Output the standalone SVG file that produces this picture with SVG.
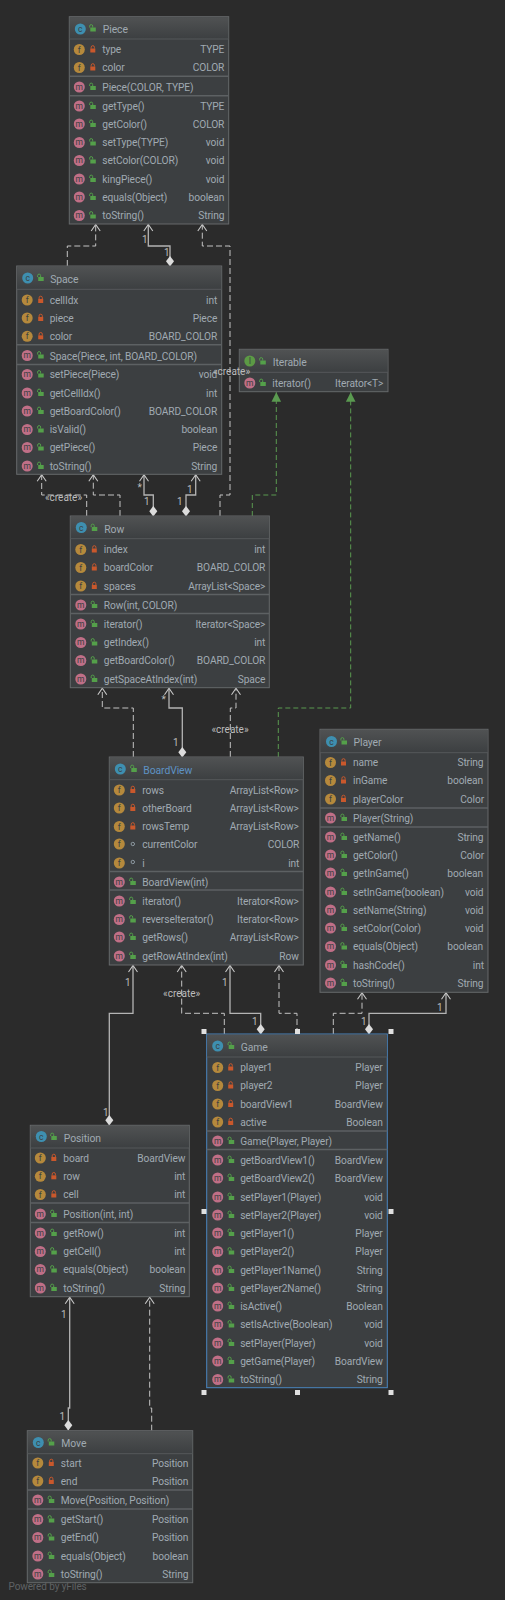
<svg xmlns="http://www.w3.org/2000/svg" width="505" height="1600" viewBox="0 0 505 1600">
<style>
text{font-family:Roboto,"Liberation Sans",sans-serif;font-size:10.2px;letter-spacing:-0.1px;fill:#a0aab2}
.r{text-anchor:end}
.h{font-size:10.4px}
.l{font-size:10px;letter-spacing:0;fill:#bcbcbc}
.c{text-anchor:middle}
.ic{font-size:8.5px;letter-spacing:0;text-anchor:middle;fill:#3a3f42}
.box{fill:#3c3f41;stroke:#66696b;stroke-width:1}
.ttl{fill:url(#tg)}
.sep{stroke:#5d6163;stroke-width:1.5}
.tsep{stroke:#55585a;stroke-width:1}
.k{fill:none;stroke:#b4b4b4;stroke-width:1.3;marker-end:url(#oa);marker-start:url(#dm)}
.d{fill:none;stroke:#c4c4c4;stroke-width:1;stroke-dasharray:6 3;marker-end:url(#oa)}
.g{fill:none;stroke:#5a9a50;stroke-width:1;stroke-dasharray:5 3;marker-end:url(#ta)}
.hd{fill:#e0e0e0}
</style>
<defs>
<linearGradient id="tg" x1="0" y1="0" x2="0" y2="1"><stop offset="0" stop-color="#505253"/><stop offset="1" stop-color="#3c3f41"/></linearGradient>
<marker id="oa" markerUnits="userSpaceOnUse" markerWidth="12" markerHeight="12" refX="10" refY="6" orient="auto"><path d="M3.5,1.5L10,6L3.5,10.5" fill="none" stroke="#c8c8c8" stroke-width="1.1"/></marker>
<marker id="dm" markerUnits="userSpaceOnUse" markerWidth="12" markerHeight="12" refX="1" refY="6" orient="auto"><polygon points="0.5,6 5.8,2 11,6 5.8,10" fill="#dcdcdc"/></marker>
<marker id="ta" markerUnits="userSpaceOnUse" markerWidth="12" markerHeight="12" refX="10" refY="6" orient="auto"><polygon points="10,6 0.5,1.2 0.5,10.8" fill="#5a9a50"/></marker>
<g id="f"><circle r="5.5" fill="#b5893c"/><text class="ic" y="3">f</text></g>
<g id="m"><circle r="5.5" fill="#c06f87"/><text class="ic" y="2.5">m</text></g>
<g id="cc"><circle r="5.5" fill="#3e8fb0"/><text class="ic" y="3">c</text></g>
<g id="ii"><circle r="5.5" fill="#5c9a45"/><text class="ic" y="3">I</text></g>
<g id="p"><rect x="-2.5" y="-1" width="5" height="4" fill="#c9582c"/><path d="M-1.6,-1V-2.2A1.6,1.6 0 0 1 1.6,-2.2V-1" fill="none" stroke="#c9582c"/></g>
<g id="u"><rect x="-2" y="-1" width="5.5" height="4" fill="#54a04a"/><path d="M-2.6,-1V-2.4A1.5,1.5 0 0 1 0.4,-2.4V-1" fill="none" stroke="#54a04a"/></g>
<circle id="o" r="1.7" fill="none" stroke="#8e9aa2"/>
</defs>
<rect width="505" height="1600" fill="#2b2b2b"/>

<g id="connectors">
<path class="d" d="M67.3,266V246H95.7V224.5"/>
<path class="k" d="M170,266V246H148.3V224.5"/>
<path class="d" d="M220,516V495H230V246H202.3V224.5"/>
<path class="d" d="M86.7,516V495H41.7V474.8"/>
<path class="d" d="M120,516V495H93.3V474.8"/>
<path class="k" d="M153.3,516V495H144V474.8"/>
<path class="k" d="M186,516V495H195.7V474.8"/>
<path class="g" d="M252.3,516V495H276.3V392.2"/>
<path class="g" d="M278.3,757V708H350.7V392.2"/>
<path class="d" d="M133.3,757V708H102.3V688.2"/>
<path class="k" d="M182.3,757V708H169V688.2"/>
<path class="d" d="M230.3,757V708H236V688.2"/>
<path class="k" d="M109.3,1125V1013.3H133V965.5"/>
<path class="d" d="M224.3,1034V1013.3H181.7V965.5"/>
<path class="k" d="M260.7,1034V1013.3H230V965.5"/>
<path class="d" d="M297,1034V1013.3H279V965.5"/>
<path class="d" d="M333.3,1034V1013.3H362V992.8"/>
<path class="k" d="M369,1034V1013.3H446V992.8"/>
<path class="k" d="M68.3,1430V1408H69.7V1297.2"/>
<path class="d" d="M151.7,1430.7V1408H149.7V1297.2"/>
</g>

<g id="Piece" transform="translate(69.3,0)">
<rect class="box" y="16.7" width="159.4" height="207.3"/><rect class="ttl" x="0.5" y="17.2" width="158.4" height="21.8"/><line class="tsep" x2="159.4" y1="39" y2="39"/>
<use href="#cc" x="11" y="29"/><use href="#u" x="23" y="28.5"/><text class="h" x="33.5" y="33">Piece</text>
<use href="#f" x="10" y="49.5"/><use href="#p" x="23.5" y="49.5"/><text x="33" y="53">type</text><text class="r" x="155" y="53">TYPE</text>
<use href="#f" x="10" y="67.5"/><use href="#p" x="23.5" y="67.5"/><text x="33" y="71">color</text><text class="r" x="155" y="71">COLOR</text>
<line class="sep" x2="159.4" y1="76.3" y2="76.3"/>
<use href="#m" x="10" y="87"/><use href="#u" x="23" y="87"/><text x="33" y="90.5">Piece(COLOR, TYPE)</text>
<line class="sep" x2="159.4" y1="95.7" y2="95.7"/>
<use href="#m" x="10" y="106"/><use href="#u" x="23" y="106"/><text x="33" y="109.5">getType()</text><text class="r" x="155" y="109.5">TYPE</text>
<use href="#m" x="10" y="124"/><use href="#u" x="23" y="124"/><text x="33" y="127.5">getColor()</text><text class="r" x="155" y="127.5">COLOR</text>
<use href="#m" x="10" y="142.5"/><use href="#u" x="23" y="142.5"/><text x="33" y="146">setType(TYPE)</text><text class="r" x="155" y="146">void</text>
<use href="#m" x="10" y="160.5"/><use href="#u" x="23" y="160.5"/><text x="33" y="164">setColor(COLOR)</text><text class="r" x="155" y="164">void</text>
<use href="#m" x="10" y="179"/><use href="#u" x="23" y="179"/><text x="33" y="182.5">kingPiece()</text><text class="r" x="155" y="182.5">void</text>
<use href="#m" x="10" y="197"/><use href="#u" x="23" y="197"/><text x="33" y="200.5">equals(Object)</text><text class="r" x="155" y="200.5">boolean</text>
<use href="#m" x="10" y="215.5"/><use href="#u" x="23" y="215.5"/><text x="33" y="219">toString()</text><text class="r" x="155" y="219">String</text>
</g>

<g id="Space" transform="translate(16.7,0)">
<rect class="box" y="266" width="205" height="208.3"/><rect class="ttl" x="0.5" y="266.5" width="204" height="22.8"/><line class="tsep" x2="205" y1="289.3" y2="289.3"/>
<use href="#cc" x="11" y="278"/><use href="#u" x="23.5" y="278"/><text class="h" x="33.5" y="283">Space</text>
<use href="#f" x="10.5" y="300"/><use href="#p" x="24" y="300"/><text x="33" y="303.5">cellIdx</text><text class="r" x="200.5" y="303.5">int</text>
<use href="#f" x="10.5" y="318"/><use href="#p" x="24" y="318"/><text x="33" y="321.5">piece</text><text class="r" x="200.5" y="321.5">Piece</text>
<use href="#f" x="10.5" y="336.3"/><use href="#p" x="24" y="336.3"/><text x="33" y="340">color</text><text class="r" x="200.5" y="340">BOARD_COLOR</text>
<line class="sep" x2="205" y1="344.7" y2="344.7"/>
<use href="#m" x="10.5" y="355.5"/><use href="#u" x="23.5" y="355.5"/><text x="33" y="359.5">Space(Piece, int, BOARD_COLOR)</text>
<line class="sep" x2="205" y1="364.5" y2="364.5"/>
<use href="#m" x="10.5" y="374.5"/><use href="#u" x="23.5" y="374.5"/><text x="33" y="378">setPiece(Piece)</text><text class="r" x="200.5" y="378">void</text>
<use href="#m" x="10.5" y="393"/><use href="#u" x="23.5" y="393"/><text x="33" y="396.5">getCellIdx()</text><text class="r" x="200.5" y="396.5">int</text>
<use href="#m" x="10.5" y="411"/><use href="#u" x="23.5" y="411"/><text x="33" y="414.5">getBoardColor()</text><text class="r" x="200.5" y="414.5">BOARD_COLOR</text>
<use href="#m" x="10.5" y="429.5"/><use href="#u" x="23.5" y="429.5"/><text x="33" y="433">isValid()</text><text class="r" x="200.5" y="433">boolean</text>
<use href="#m" x="10.5" y="447.5"/><use href="#u" x="23.5" y="447.5"/><text x="33" y="451">getPiece()</text><text class="r" x="200.5" y="451">Piece</text>
<use href="#m" x="10.5" y="466"/><use href="#u" x="23.5" y="466"/><text x="33" y="469.5">toString()</text><text class="r" x="200.5" y="469.5">String</text>
</g>

<g id="Iterable" transform="translate(239.3,0)">
<rect class="box" y="349.3" width="148.7" height="42.4"/><rect class="ttl" x="0.5" y="349.8" width="147.7" height="22.5"/><line class="tsep" x2="148.7" y1="372.3" y2="372.3"/>
<use href="#ii" x="10.5" y="361"/><use href="#u" x="23" y="361.5"/><text class="h" x="33.5" y="366">Iterable</text>
<use href="#m" x="10.5" y="383"/><use href="#u" x="23" y="383"/><text x="33" y="387">iterator()</text><text class="r" x="144" y="387">Iterator&lt;T&gt;</text>
</g>

<g id="Row" transform="translate(70.3,0)">
<rect class="box" y="516" width="199" height="171.7"/><rect class="ttl" x="0.5" y="516.5" width="198" height="22.2"/><line class="tsep" x2="199" y1="538.7" y2="538.7"/>
<use href="#cc" x="11" y="527.5"/><use href="#u" x="23.5" y="528"/><text class="h" x="34" y="533">Row</text>
<use href="#f" x="10.5" y="549.5"/><use href="#p" x="24" y="549.5"/><text x="33.5" y="553">index</text><text class="r" x="195" y="553">int</text>
<use href="#f" x="10.5" y="567.5"/><use href="#p" x="24" y="567.5"/><text x="33.5" y="571">boardColor</text><text class="r" x="195" y="571">BOARD_COLOR</text>
<use href="#f" x="10.5" y="586"/><use href="#p" x="24" y="586"/><text x="33.5" y="589.5">spaces</text><text class="r" x="195" y="589.5">ArrayList&lt;Space&gt;</text>
<line class="sep" x2="199" y1="594.5" y2="594.5"/>
<use href="#m" x="10.5" y="605"/><use href="#u" x="23.5" y="605"/><text x="33.5" y="609">Row(int, COLOR)</text>
<line class="sep" x2="199" y1="613.5" y2="613.5"/>
<use href="#m" x="10.5" y="624"/><use href="#u" x="23.5" y="624"/><text x="33.5" y="627.5">iterator()</text><text class="r" x="195" y="627.5">Iterator&lt;Space&gt;</text>
<use href="#m" x="10.5" y="642.5"/><use href="#u" x="23.5" y="642.5"/><text x="33.5" y="646">getIndex()</text><text class="r" x="195" y="646">int</text>
<use href="#m" x="10.5" y="660.5"/><use href="#u" x="23.5" y="660.5"/><text x="33.5" y="664">getBoardColor()</text><text class="r" x="195" y="664">BOARD_COLOR</text>
<use href="#m" x="10.5" y="679"/><use href="#u" x="23.5" y="679"/><text x="33.5" y="682.5">getSpaceAtIndex(int)</text><text class="r" x="195" y="682.5">Space</text>
</g>

<g id="BoardView" transform="translate(109.3,0)">
<rect class="box" y="757" width="194" height="208"/><rect class="ttl" x="0.5" y="757.5" width="193" height="22.2"/><line class="tsep" x2="194" y1="779.7" y2="779.7"/>
<use href="#cc" x="11" y="769"/><use href="#u" x="24" y="769"/><text class="h" x="34" y="773.5" style="fill:#5e92c4">BoardView</text>
<use href="#f" x="10" y="790"/><use href="#p" x="23.5" y="790"/><text x="33" y="793.5">rows</text><text class="r" x="189.5" y="793.5">ArrayList&lt;Row&gt;</text>
<use href="#f" x="10" y="808"/><use href="#p" x="23.5" y="808"/><text x="33" y="811.5">otherBoard</text><text class="r" x="189.5" y="811.5">ArrayList&lt;Row&gt;</text>
<use href="#f" x="10" y="826.5"/><use href="#p" x="23.5" y="826.5"/><text x="33" y="830">rowsTemp</text><text class="r" x="189.5" y="830">ArrayList&lt;Row&gt;</text>
<use href="#f" x="10" y="844"/><use href="#o" x="23.5" y="844"/><text x="33" y="848">currentColor</text><text class="r" x="190" y="848">COLOR</text>
<use href="#f" x="10" y="863"/><use href="#o" x="23.5" y="862"/><text x="33" y="866.5">i</text><text class="r" x="190" y="866.5">int</text>
<line class="sep" x2="194" y1="871.5" y2="871.5"/>
<use href="#m" x="10" y="882"/><use href="#u" x="23" y="882"/><text x="33" y="885.5">BoardView(int)</text>
<line class="sep" x2="194" y1="890" y2="890"/>
<use href="#m" x="10" y="901"/><use href="#u" x="23" y="901"/><text x="33" y="904.5">iterator()</text><text class="r" x="189.5" y="904.5">Iterator&lt;Row&gt;</text>
<use href="#m" x="10" y="919.5"/><use href="#u" x="23" y="919.5"/><text x="33" y="923">reverseIterator()</text><text class="r" x="189.5" y="923">Iterator&lt;Row&gt;</text>
<use href="#m" x="10" y="937"/><use href="#u" x="23" y="937"/><text x="33" y="941">getRows()</text><text class="r" x="189.5" y="941">ArrayList&lt;Row&gt;</text>
<use href="#m" x="10" y="956"/><use href="#u" x="23" y="956"/><text x="33" y="959.5">getRowAtIndex(int)</text><text class="r" x="189.5" y="959.5">Row</text>
</g>

<g id="Player" transform="translate(320,0)">
<rect class="box" y="729.3" width="168" height="263"/><rect class="ttl" x="0.5" y="729.8" width="167" height="22.9"/><line class="tsep" x2="168" y1="752.7" y2="752.7"/>
<use href="#cc" x="11.5" y="741.5"/><use href="#u" x="23.5" y="741.5"/><text class="h" x="33.5" y="746">Player</text>
<use href="#f" x="10.5" y="762.5"/><use href="#p" x="23.5" y="762.5"/><text x="33" y="766">name</text><text class="r" x="163.5" y="766">String</text>
<use href="#f" x="10.5" y="780.5"/><use href="#p" x="23.5" y="780.5"/><text x="33" y="784">inGame</text><text class="r" x="163" y="784">boolean</text>
<use href="#f" x="10.5" y="799"/><use href="#p" x="23.5" y="799"/><text x="33" y="802.5">playerColor</text><text class="r" x="164" y="802.5">Color</text>
<line class="sep" x2="168" y1="808" y2="808"/>
<use href="#m" x="10.5" y="818"/><use href="#u" x="23.5" y="818"/><text x="33" y="821.5">Player(String)</text>
<line class="sep" x2="168" y1="827" y2="827"/>
<use href="#m" x="10.5" y="837"/><use href="#u" x="23.5" y="837"/><text x="33" y="840.5">getName()</text><text class="r" x="163.5" y="840.5">String</text>
<use href="#m" x="10.5" y="855"/><use href="#u" x="23.5" y="855"/><text x="33" y="858.5">getColor()</text><text class="r" x="164" y="858.5">Color</text>
<use href="#m" x="10.5" y="873"/><use href="#u" x="23.5" y="873"/><text x="33" y="877">getInGame()</text><text class="r" x="163" y="877">boolean</text>
<use href="#m" x="10.5" y="892"/><use href="#u" x="23.5" y="892"/><text x="33" y="895.5">setInGame(boolean)</text><text class="r" x="163.5" y="895.5">void</text>
<use href="#m" x="10.5" y="910"/><use href="#u" x="23.5" y="910"/><text x="33" y="913.5">setName(String)</text><text class="r" x="163.5" y="913.5">void</text>
<use href="#m" x="10.5" y="928"/><use href="#u" x="23.5" y="928"/><text x="33" y="932">setColor(Color)</text><text class="r" x="163.5" y="932">void</text>
<use href="#m" x="10.5" y="946.5"/><use href="#u" x="23.5" y="946.5"/><text x="33" y="950">equals(Object)</text><text class="r" x="163" y="950">boolean</text>
<use href="#m" x="10.5" y="965"/><use href="#u" x="23.5" y="965"/><text x="33" y="968.5">hashCode()</text><text class="r" x="164" y="968.5">int</text>
<use href="#m" x="10.5" y="983"/><use href="#u" x="23.5" y="983"/><text x="33" y="986.5">toString()</text><text class="r" x="163.5" y="986.5">String</text>
</g>

<g id="Game" transform="translate(206.7,0)">
<rect class="box" y="1034" width="180.6" height="353.7" style="stroke:#4a86c0"/><rect class="ttl" x="0.6" y="1034.6" width="179.4" height="22.4"/><line class="tsep" x2="180.6" y1="1057" y2="1057"/>
<use href="#cc" x="11" y="1046"/><use href="#u" x="24" y="1046"/><text class="h" x="34" y="1050.5">Game</text>
<use href="#f" x="11" y="1067.5"/><use href="#p" x="24" y="1067.5"/><text x="33.5" y="1071">player1</text><text class="r" x="176" y="1071">Player</text>
<use href="#f" x="11" y="1085.5"/><use href="#p" x="24" y="1085.5"/><text x="33.5" y="1089">player2</text><text class="r" x="176" y="1089">Player</text>
<use href="#f" x="11" y="1104"/><use href="#p" x="24" y="1104"/><text x="33.5" y="1107.5">boardView1</text><text class="r" x="176" y="1107.5">BoardView</text>
<use href="#f" x="11" y="1122"/><use href="#p" x="24" y="1122"/><text x="33.5" y="1125.5">active</text><text class="r" x="176" y="1125.5">Boolean</text>
<line class="sep" x2="180.6" y1="1131" y2="1131"/>
<use href="#m" x="11" y="1141"/><use href="#u" x="24" y="1141"/><text x="33.5" y="1144.5">Game(Player, Player)</text>
<line class="sep" x2="180.6" y1="1149.5" y2="1149.5"/>
<use href="#m" x="11" y="1160"/><use href="#u" x="24" y="1160"/><text x="33.5" y="1163.5">getBoardView1()</text><text class="r" x="176" y="1163.5">BoardView</text>
<use href="#m" x="11" y="1178"/><use href="#u" x="24" y="1178"/><text x="33.5" y="1181.5">getBoardView2()</text><text class="r" x="176" y="1181.5">BoardView</text>
<use href="#m" x="11" y="1197"/><use href="#u" x="24" y="1197"/><text x="33.5" y="1200.5">setPlayer1(Player)</text><text class="r" x="176" y="1200.5">void</text>
<use href="#m" x="11" y="1215"/><use href="#u" x="24" y="1215"/><text x="33.5" y="1218.5">setPlayer2(Player)</text><text class="r" x="176" y="1218.5">void</text>
<use href="#m" x="11" y="1233"/><use href="#u" x="24" y="1233"/><text x="33.5" y="1236.5">getPlayer1()</text><text class="r" x="176" y="1236.5">Player</text>
<use href="#m" x="11" y="1251.5"/><use href="#u" x="24" y="1251.5"/><text x="33.5" y="1255">getPlayer2()</text><text class="r" x="176" y="1255">Player</text>
<use href="#m" x="11" y="1270"/><use href="#u" x="24" y="1270"/><text x="33.5" y="1273.5">getPlayer1Name()</text><text class="r" x="176" y="1273.5">String</text>
<use href="#m" x="11" y="1288"/><use href="#u" x="24" y="1288"/><text x="33.5" y="1291.5">getPlayer2Name()</text><text class="r" x="176" y="1291.5">String</text>
<use href="#m" x="11" y="1306"/><use href="#u" x="24" y="1306"/><text x="33.5" y="1310">isActive()</text><text class="r" x="176" y="1310">Boolean</text>
<use href="#m" x="11" y="1324.5"/><use href="#u" x="24" y="1324.5"/><text x="33.5" y="1328">setIsActive(Boolean)</text><text class="r" x="176" y="1328">void</text>
<use href="#m" x="11" y="1343"/><use href="#u" x="24" y="1343"/><text x="33.5" y="1346.5">setPlayer(Player)</text><text class="r" x="176" y="1346.5">void</text>
<use href="#m" x="11" y="1361"/><use href="#u" x="24" y="1361"/><text x="33.5" y="1364.5">getGame(Player)</text><text class="r" x="176" y="1364.5">BoardView</text>
<use href="#m" x="11" y="1379.5"/><use href="#u" x="24" y="1379.5"/><text x="33.5" y="1383">toString()</text><text class="r" x="176" y="1383">String</text>
</g>
<g id="selection-handles">
<rect class="hd" x="201.5" y="1029" width="5" height="5"/><rect class="hd" x="295" y="1029" width="5" height="5"/><rect class="hd" x="388.5" y="1029" width="5" height="5"/>
<rect class="hd" x="201.5" y="1209" width="5" height="5"/><rect class="hd" x="388.5" y="1209" width="5" height="5"/>
<rect class="hd" x="201.5" y="1390" width="5" height="5"/><rect class="hd" x="295" y="1390" width="5" height="5"/><rect class="hd" x="388.5" y="1390" width="5" height="5"/>
</g>

<g id="Position" transform="translate(30.3,0)">
<rect class="box" y="1125.3" width="159" height="171.4"/><rect class="ttl" x="0.5" y="1125.8" width="158" height="22.2"/><line class="tsep" x2="159" y1="1148" y2="1148"/>
<use href="#cc" x="11" y="1136.5"/><use href="#u" x="23" y="1137"/><text class="h" x="33.5" y="1141.5">Position</text>
<use href="#f" x="10" y="1158"/><use href="#p" x="23.5" y="1158"/><text x="33" y="1161.5">board</text><text class="r" x="155" y="1161.5">BoardView</text>
<use href="#f" x="10" y="1176.3"/><use href="#p" x="23.5" y="1176.3"/><text x="33" y="1180">row</text><text class="r" x="155" y="1180">int</text>
<use href="#f" x="10" y="1194.5"/><use href="#p" x="23.5" y="1194.5"/><text x="33" y="1198">cell</text><text class="r" x="155" y="1198">int</text>
<line class="sep" x2="159" y1="1203" y2="1203"/>
<use href="#m" x="10" y="1214"/><use href="#u" x="23" y="1214"/><text x="33" y="1217.5">Position(int, int)</text>
<line class="sep" x2="159" y1="1222.5" y2="1222.5"/>
<use href="#m" x="10" y="1233"/><use href="#u" x="23" y="1233"/><text x="33" y="1236.5">getRow()</text><text class="r" x="155" y="1236.5">int</text>
<use href="#m" x="10" y="1251.5"/><use href="#u" x="23" y="1251.5"/><text x="33" y="1255">getCell()</text><text class="r" x="155" y="1255">int</text>
<use href="#m" x="10" y="1269.5"/><use href="#u" x="23" y="1269.5"/><text x="33" y="1273">equals(Object)</text><text class="r" x="155" y="1273">boolean</text>
<use href="#m" x="10" y="1288"/><use href="#u" x="23" y="1288"/><text x="33" y="1291.5">toString()</text><text class="r" x="155" y="1291.5">String</text>
</g>

<g id="Move" transform="translate(27.3,0)">
<rect class="box" y="1430.7" width="165.4" height="152"/><rect class="ttl" x="0.5" y="1431.2" width="164.4" height="22.5"/><line class="tsep" x2="165.4" y1="1453.7" y2="1453.7"/>
<use href="#cc" x="11" y="1442.5"/><use href="#u" x="23.5" y="1442.5"/><text class="h" x="34" y="1447">Move</text>
<use href="#f" x="10.5" y="1463"/><use href="#p" x="24" y="1463"/><text x="33.5" y="1466.5">start</text><text class="r" x="161" y="1466.5">Position</text>
<use href="#f" x="10.5" y="1481"/><use href="#p" x="24" y="1481"/><text x="33.5" y="1484.5">end</text><text class="r" x="161" y="1484.5">Position</text>
<line class="sep" x2="165.4" y1="1490" y2="1490"/>
<use href="#m" x="10.5" y="1500"/><use href="#u" x="23.5" y="1500"/><text x="33.5" y="1504">Move(Position, Position)</text>
<line class="sep" x2="165.4" y1="1509" y2="1509"/>
<use href="#m" x="10.5" y="1519.5"/><use href="#u" x="23.5" y="1519.5"/><text x="33.5" y="1523">getStart()</text><text class="r" x="161" y="1523">Position</text>
<use href="#m" x="10.5" y="1537.5"/><use href="#u" x="23.5" y="1537.5"/><text x="33.5" y="1541">getEnd()</text><text class="r" x="161" y="1541">Position</text>
<use href="#m" x="10.5" y="1556"/><use href="#u" x="23.5" y="1556"/><text x="33.5" y="1559.5">equals(Object)</text><text class="r" x="161" y="1559.5">boolean</text>
<use href="#m" x="10.5" y="1574"/><use href="#u" x="23.5" y="1574"/><text x="33.5" y="1578">toString()</text><text class="r" x="161" y="1578">String</text>
</g>

<g id="connector-labels">
<text class="l" x="142" y="243">1</text><text class="l" x="164" y="256">1</text>
<text class="l" x="137.5" y="491">*</text><text class="l" x="144" y="505">1</text>
<text class="l" x="187" y="493">1</text><text class="l" x="177" y="505">1</text>
<text class="l c" x="63.5" y="500.5">«create»</text>
<text class="l c" x="231.5" y="374.5">«create»</text>
<text class="l" x="161.5" y="703">*</text><text class="l" x="173" y="745.5">1</text>
<text class="l c" x="230" y="733">«create»</text>
<text class="l" x="125" y="985.5">1</text><text class="l" x="222" y="985.5">1</text>
<text class="l c" x="181.7" y="996.5">«create»</text>
<text class="l" x="252" y="1024.5">1</text><text class="l" x="361" y="1024.5">1</text>
<text class="l" x="437" y="1010.5">1</text><text class="l" x="103" y="1116">1</text>
<text class="l" x="61" y="1317.5">1</text><text class="l" x="59.5" y="1419.5">1</text>
</g>
<text x="8.5" y="1590" style="fill:#5f6264;font-size:10px">Powered by yFiles</text>
</svg>
